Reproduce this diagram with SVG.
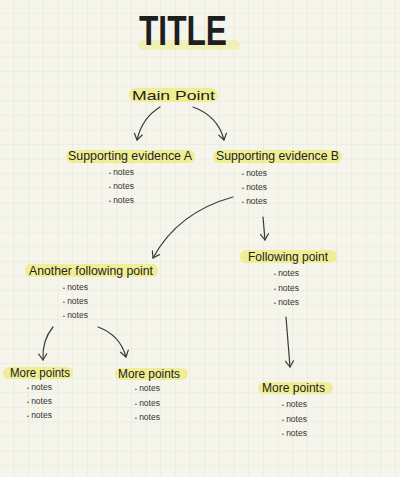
<svg xmlns="http://www.w3.org/2000/svg" width="400" height="477" viewBox="0 0 400 477">
<style>
.h{font-family:"Liberation Sans","DejaVu Sans",sans-serif;font-size:13px;fill:#232323;}
.n{font-family:"Liberation Sans","DejaVu Sans",sans-serif;font-size:8.5px;fill:#333;}
.b{font-size:5px;}
.hl{fill:#efec86;opacity:0.85;}
.hlp{fill:#f1efb2;opacity:0.9;}
.ar{fill:none;stroke:#3a3a3a;stroke-width:1.2;stroke-linecap:round;marker-end:url(#ah);}
</style>
<defs>
<pattern id="grid" width="14.67" height="14.6" patternUnits="userSpaceOnUse" patternTransform="translate(13.5 12.7)">
<path d="M0,0 V14.6 M0,0 H14.67" fill="none" stroke="#e3e5d7" stroke-width="1.2"/>
</pattern>
<marker id="ah" viewBox="-7 -5 8 10" refX="0" refY="0" markerWidth="8" markerHeight="10" markerUnits="userSpaceOnUse" orient="auto">
<path d="M-6,-4 L0,0 L-6,4" fill="none" stroke="#3a3a3a" stroke-width="1.2" stroke-linecap="round" stroke-linejoin="round"/>
</marker>
</defs>
<rect width="400" height="477" fill="#f6f5ec"/>
<rect width="400" height="477" fill="url(#grid)"/>

<g id="title">
<rect class="hlp" x="138" y="40" width="102" height="10" rx="5"/>
<text x="139" y="45" font-family="Liberation Sans,DejaVu Sans,sans-serif" font-weight="bold" font-size="42" fill="#1e1e1e" textLength="88" lengthAdjust="spacingAndGlyphs">TITLE</text>
</g>

<g id="connectors">
<path class="ar" d="M160,107 Q142,118 137,140"/>
<path class="ar" d="M193,107 Q218,116 224,140"/>
<path class="ar" d="M233,197 Q178,212 153,258"/>
<path class="ar" d="M263,217 L265,240"/>
<path class="ar" d="M53,327 Q42,340 43,360"/>
<path class="ar" d="M98,327 Q120,335 126,357"/>
<path class="ar" d="M286,317 L290,367"/>
</g>

<g id="main-point">
<rect class="hl" x="129" y="88" width="89" height="14" rx="7"/>
<text class="h" x="132" y="100" font-size="16" textLength="83" lengthAdjust="spacingAndGlyphs">Main Point</text>
</g>

<g id="evidence-a">
<rect class="hl" x="66" y="150" width="129" height="13" rx="6"/>
<text class="h" x="68" y="160" textLength="124" lengthAdjust="spacingAndGlyphs">Supporting evidence A</text>
<text class="n" x="109" y="175"><tspan class="b">•</tspan> notes</text>
<text class="n" x="109" y="189"><tspan class="b">•</tspan> notes</text>
<text class="n" x="109" y="203"><tspan class="b">•</tspan> notes</text>
</g>

<g id="evidence-b">
<rect class="hl" x="213" y="150" width="129" height="13" rx="6"/>
<text class="h" x="216" y="160" textLength="123" lengthAdjust="spacingAndGlyphs">Supporting evidence B</text>
<text class="n" x="242" y="176"><tspan class="b">•</tspan> notes</text>
<text class="n" x="242" y="190"><tspan class="b">•</tspan> notes</text>
<text class="n" x="242" y="204"><tspan class="b">•</tspan> notes</text>
</g>

<g id="following-point">
<rect class="hl" x="240" y="250" width="97" height="13" rx="6"/>
<text class="h" x="248" y="261" textLength="80" lengthAdjust="spacingAndGlyphs">Following point</text>
<text class="n" x="274" y="276"><tspan class="b">•</tspan> notes</text>
<text class="n" x="274" y="291"><tspan class="b">•</tspan> notes</text>
<text class="n" x="274" y="305"><tspan class="b">•</tspan> notes</text>
</g>

<g id="another-following-point">
<rect class="hl" x="25" y="264" width="133" height="13" rx="6"/>
<text class="h" x="29" y="275" textLength="124" lengthAdjust="spacingAndGlyphs">Another following point</text>
<text class="n" x="63" y="290"><tspan class="b">•</tspan> notes</text>
<text class="n" x="63" y="304"><tspan class="b">•</tspan> notes</text>
<text class="n" x="63" y="318"><tspan class="b">•</tspan> notes</text>
</g>

<g id="more-points-1">
<rect class="hl" x="3" y="367" width="70" height="12" rx="6"/>
<text class="h" x="10" y="377" textLength="60" lengthAdjust="spacingAndGlyphs">More points</text>
<text class="n" x="27" y="390"><tspan class="b">•</tspan> notes</text>
<text class="n" x="27" y="404"><tspan class="b">•</tspan> notes</text>
<text class="n" x="27" y="418"><tspan class="b">•</tspan> notes</text>
</g>

<g id="more-points-2">
<rect class="hl" x="115" y="368" width="73" height="12" rx="6"/>
<text class="h" x="118" y="378" textLength="62" lengthAdjust="spacingAndGlyphs">More points</text>
<text class="n" x="135" y="391"><tspan class="b">•</tspan> notes</text>
<text class="n" x="135" y="406"><tspan class="b">•</tspan> notes</text>
<text class="n" x="135" y="420"><tspan class="b">•</tspan> notes</text>
</g>

<g id="more-points-3">
<rect class="hl" x="258" y="382" width="75" height="12" rx="6"/>
<text class="h" x="262" y="392" textLength="63" lengthAdjust="spacingAndGlyphs">More points</text>
<text class="n" x="282" y="407"><tspan class="b">•</tspan> notes</text>
<text class="n" x="282" y="422"><tspan class="b">•</tspan> notes</text>
<text class="n" x="282" y="436"><tspan class="b">•</tspan> notes</text>
</g>
</svg>
